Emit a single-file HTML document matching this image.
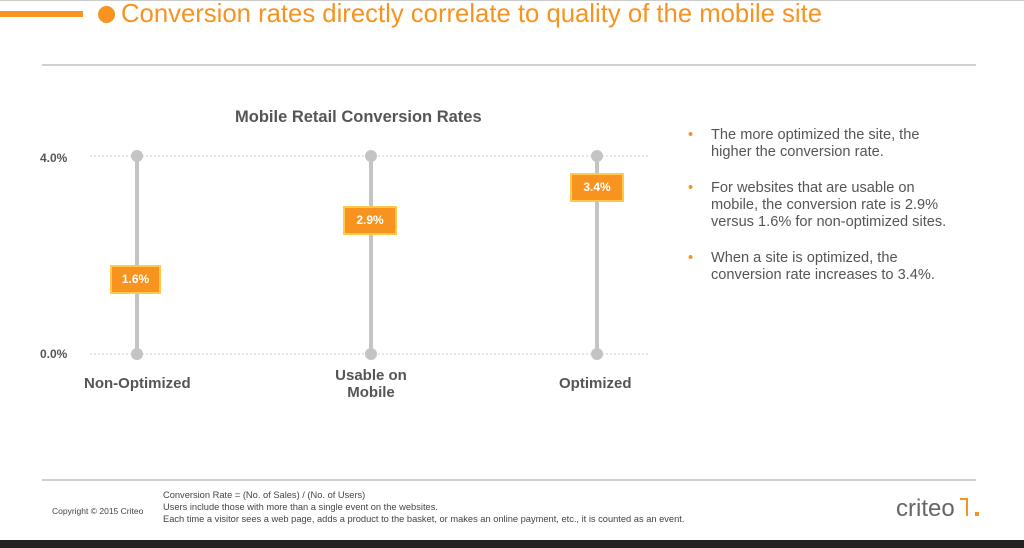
<!DOCTYPE html>
<html><head><style>
body{margin:0;width:1024px;height:548px;position:relative;background:#fff;font-family:"Liberation Sans",sans-serif;overflow:hidden}
.a{position:absolute;white-space:nowrap}
.box{position:absolute;background:#f7931e;border:2px solid #ffc94a;color:#fff;font-weight:bold;font-size:12px;text-align:center;box-sizing:border-box}
.b{font-size:14.6px;color:#555;line-height:17px}
.b span{color:#f7931e;position:absolute;left:-23px}
</style></head><body>
<div class="a" style="left:0;top:0;width:1024px;height:1px;background:#ccc"></div>
<div class="a" style="left:0;top:11px;width:83px;height:6px;background:#f7931e"></div>
<div class="a" style="left:98px;top:6px;width:17px;height:17px;border-radius:50%;background:#f7931e"></div>
<div class="a" style="left:121px;top:0px;font-size:25.7px;color:#f7931e">Conversion rates directly correlate to quality of the mobile site</div>
<div class="a" style="left:42px;top:64px;width:934px;height:2px;background:#d0d0d0"></div>
<div class="a" style="left:235px;top:108px;font-size:16.5px;font-weight:bold;color:#555">Mobile Retail Conversion Rates</div>
<svg class="a" style="left:0;top:0" width="700" height="420">
<line x1="90" y1="156" x2="648" y2="156" stroke="#ccc" stroke-dasharray="2,2"/>
<line x1="90" y1="354" x2="648" y2="354" stroke="#ccc" stroke-dasharray="2,2"/>
<g stroke="#c4c4c4" stroke-width="4"><line x1="137" y1="156" x2="137" y2="354"/><line x1="371" y1="156" x2="371" y2="354"/><line x1="597" y1="156" x2="597" y2="354"/></g>
<g fill="#c4c4c4"><circle cx="137" cy="156" r="6"/><circle cx="137" cy="354" r="6"/><circle cx="371" cy="156" r="6"/><circle cx="371" cy="354" r="6"/><circle cx="597" cy="156" r="6"/><circle cx="597" cy="354" r="6"/></g>
</svg>
<div class="box" style="left:110px;top:265px;width:51px;height:29px;line-height:25px">1.6%</div>
<div class="box" style="left:343px;top:206px;width:54px;height:29px;line-height:25px">2.9%</div>
<div class="box" style="left:570px;top:173px;width:54px;height:29px;line-height:25px">3.4%</div>
<div class="a" style="left:40px;top:151px;font-size:12px;font-weight:bold;color:#555">4.0%</div>
<div class="a" style="left:40px;top:347px;font-size:12px;font-weight:bold;color:#555">0.0%</div>
<div class="a" style="left:84px;top:375px;font-size:15px;font-weight:bold;color:#555">Non-Optimized</div>
<div class="a" style="left:321px;top:367px;width:100px;text-align:center;font-size:15px;font-weight:bold;color:#555;line-height:17px">Usable on<br>Mobile</div>
<div class="a" style="left:559px;top:375px;font-size:15px;font-weight:bold;color:#555">Optimized</div>
<div class="a b" style="left:711px;top:127px"><span>•</span>The more optimized the site, the<br>higher the conversion rate.</div>
<div class="a b" style="left:711px;top:180px"><span>•</span>For websites that are usable on<br>mobile, the conversion rate is 2.9%<br>versus 1.6% for non-optimized sites.</div>
<div class="a b" style="left:711px;top:250px"><span>•</span>When a site is optimized, the<br>conversion rate increases to 3.4%.</div>
<div class="a" style="left:42px;top:479px;width:934px;height:2px;background:#d0d0d0"></div>
<div class="a" style="left:52px;top:506px;font-size:8.5px;color:#444">Copyright © 2015 Criteo</div>
<div class="a" style="left:163px;top:489px;font-size:9.3px;color:#444;line-height:12px">Conversion Rate = (No. of Sales) / (No. of Users)<br>Users include those with more than a single event on the websites.<br>Each time a visitor sees a web page, adds a product to the basket, or makes an online payment, etc., it is counted as an event.</div>
<div class="a" style="left:896px;top:495px;font-size:24px;color:#666">criteo</div>
<div class="a" style="left:960px;top:498px;width:8px;height:18px;border-top:2px solid #f7931e;border-right:2px solid #f7931e;box-sizing:border-box"></div>
<div class="a" style="left:975px;top:512px;width:4px;height:4px;background:#f7931e"></div>
<div class="a" style="left:0;top:540px;width:1024px;height:8px;background:#222"></div>
</body></html>
